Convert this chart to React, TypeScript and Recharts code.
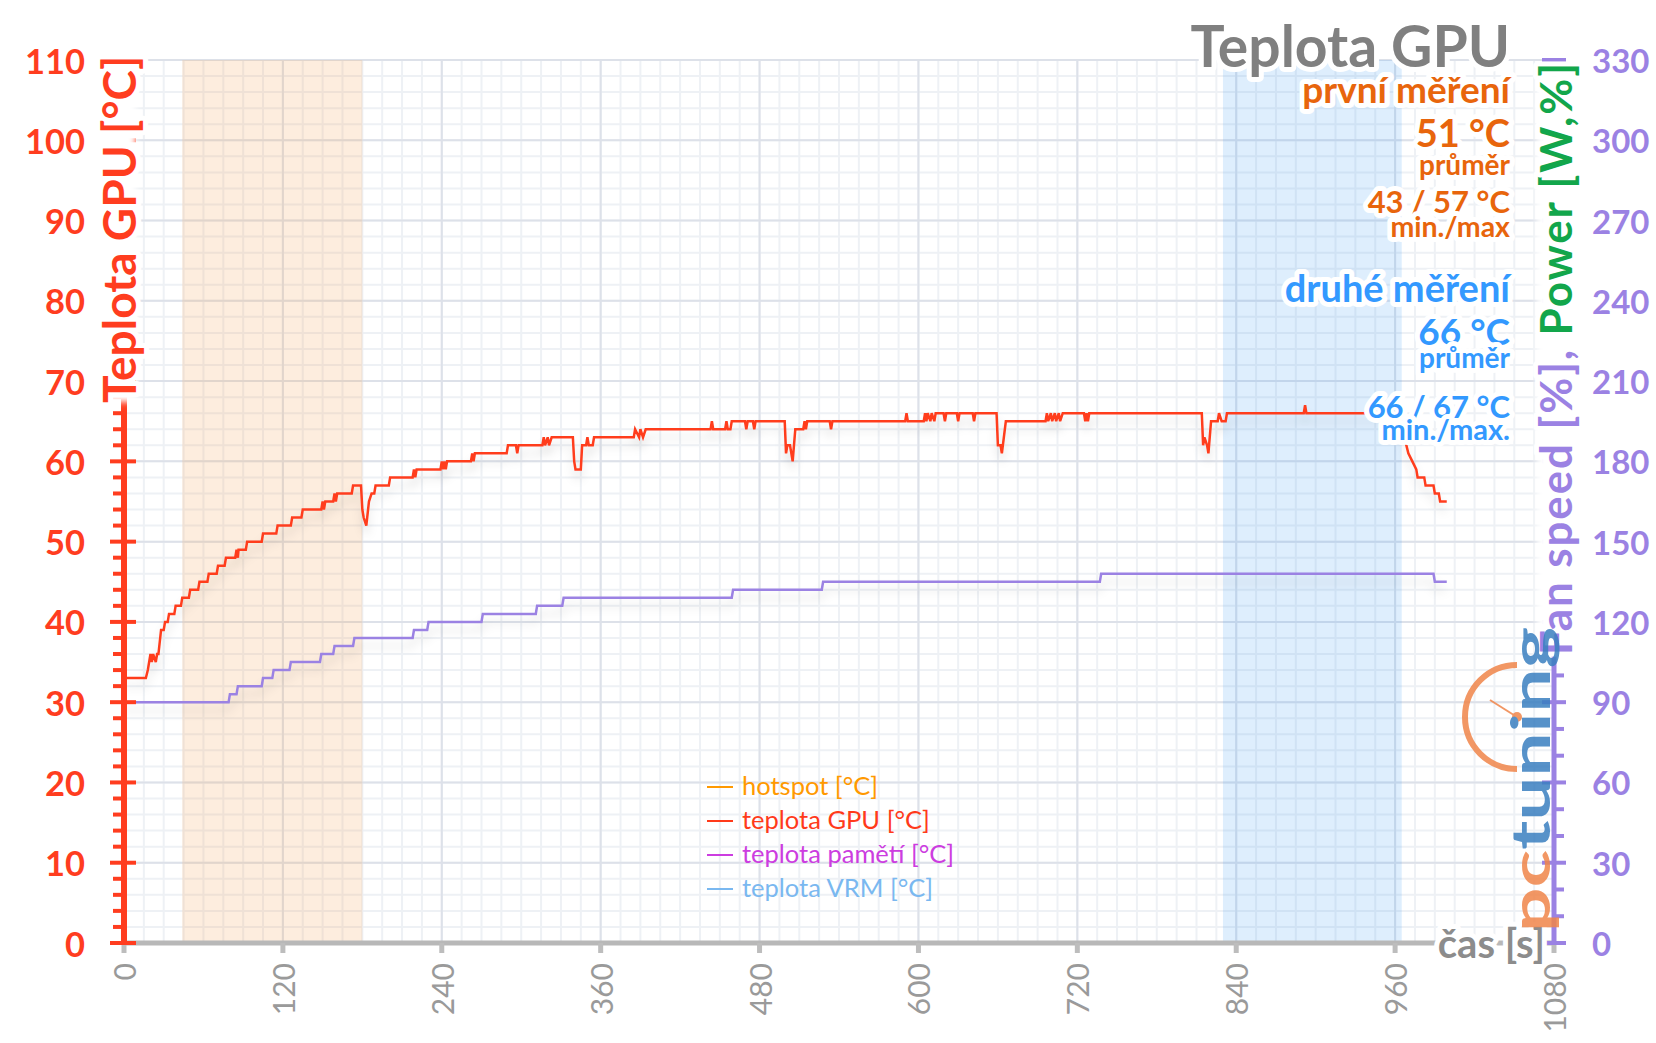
import { LineChart, Line, XAxis, YAxis, CartesianGrid, ReferenceArea } from 'recharts';

const FONT = "Lato, 'Open Sans', sans-serif";
const RED = '#ff3d1f';
const PURPLE = '#9b82e3';
const GREEN = '#12a64b';
const ORANGE = '#e8650c';
const BLUE = '#3399ff';
const GRAY = '#9a9a9a';

// teplota GPU [°C] - time [s] / value pairs
const gpuTime = [
  0, 16.5, 18, 20, 21, 22, 24, 25, 26, 28, 30, 31, 33, 34, 38, 39, 43, 44, 49, 50, 56, 57, 63, 64, 70, 71, 76, 77,
  84, 85, 86, 86.5, 92, 93, 104, 105, 115, 116, 126, 127, 134, 135, 149, 150, 151, 152, 158, 159, 160, 161, 172, 173,
  179, 180, 181, 183, 185, 187, 189, 190, 200, 201, 218, 219, 220, 221, 239, 240, 241, 242, 243, 244, 262, 263, 264,
  265, 289, 290, 296, 297, 298, 316, 317, 318, 320, 321, 323, 339, 340, 341, 345, 346, 349, 350, 351, 354, 355, 385,
  386, 389, 390, 392, 394, 443, 444, 445, 454, 455, 456, 458, 459, 469, 470, 471, 475, 476, 477, 499, 500, 501, 503,
  505, 507, 513, 514, 515, 516, 533, 534, 535, 590, 591, 592, 604, 605, 606, 607, 609, 610, 612, 613, 619, 620, 621,
  629, 630, 631, 641, 642, 643, 659, 660, 662, 663, 666, 696, 697, 698, 700, 701, 703, 704, 706, 707, 709, 725, 726,
  727, 728, 729, 814, 815, 816, 818, 819, 821, 826, 827, 829, 832, 833, 891, 892, 893, 965, 967, 970, 973, 976, 977,
  982, 983, 989, 990, 993, 994, 999,
];
const gpuTemp = [
  33, 33, 34, 36, 35, 36, 35, 36, 36, 39, 39, 40, 40, 41, 41, 42, 42, 43, 43, 44, 44, 45, 45, 46, 46, 47, 47, 48,
  48, 49, 48, 49, 49, 50, 50, 51, 51, 52, 52, 53, 53, 54, 54, 55, 54, 55, 55, 56, 55, 56, 56, 57,
  57, 54, 53, 52, 55, 56, 56, 57, 57, 58, 58, 59, 58, 59, 59, 60, 59, 60, 59, 60, 60, 61, 60,
  61, 61, 62, 62, 61, 62, 62, 63, 62, 63, 62, 63, 63, 60, 59, 59, 62, 62, 63, 62, 62, 63, 63,
  64, 63, 64, 63, 64, 64, 65, 64, 64, 65, 64, 64, 65, 65, 64, 65, 65, 64, 65, 65, 61, 62, 62,
  60, 64, 64, 65, 64, 65, 65, 64, 65, 65, 66, 65, 65, 66, 65, 66, 65, 66, 65, 66, 66, 65, 66,
  66, 65, 66, 66, 65, 66, 66, 62, 62, 61, 65, 65, 66, 65, 66, 65, 66, 65, 66, 65, 66, 66, 65,
  66, 65, 66, 66, 62, 63, 62, 61, 65, 65, 66, 65, 65, 66, 66, 67, 66, 66, 63, 61, 60, 59, 58,
  58, 57, 57, 56, 56, 55, 55,
];

// Fan speed [%] (right axis)
const fanTime = [0, 79, 80, 85, 86, 104, 105, 112, 113, 125, 126, 148, 149, 158, 159, 173, 174, 218, 219, 229, 230, 270, 271, 311, 312, 331, 332, 459, 460, 527, 528, 737, 738, 989, 990, 999];
const fanSpeed = [90, 90, 93, 93, 96, 96, 99, 99, 102, 102, 105, 105, 108, 108, 111, 111, 114, 114, 117, 117, 120, 120, 123, 123, 126, 126, 129, 129, 132, 132, 135, 135, 138, 138, 135, 135];

// teplota VRM [°C]
const vrmTime = [0, 999];
const vrmTemp = [0, 0];

const xTicks = [0, 120, 240, 360, 480, 600, 720, 840, 960, 1080];
const xMinor = Array.from({ length: 73 }, (_, i) => i * 15);
const yMajor = [0, 10, 20, 30, 40, 50, 60, 70, 80, 90, 100, 110];
const yMinor = Array.from({ length: 56 }, (_, i) => i * 2);
const rightTicks = Array.from({ length: 34 }, (_, i) => i * 10);

const firstRun = [44, 180];
const secondRun = [830, 965];

const legendItems = [
  { name: 'hotspot [°C]', color: '#ff9900' },
  { name: 'teplota GPU [°C]', color: '#ff3a1a' },
  { name: 'teplota pamětí [°C]', color: '#cc3de0' },
  { name: 'teplota VRM [°C]', color: '#7ab8f0' },
];

const gpuData = gpuTime.map((t, i) => ({ t, v: gpuTemp[i] }));
const fanData = fanTime.map((t, i) => ({ t, v: fanSpeed[i] }));
const vrmData = vrmTime.map((t, i) => ({ t, v: vrmTemp[i] }));

const halo = { stroke: '#fff', strokeWidth: 10, paintOrder: 'stroke', strokeLinejoin: 'round' } as const;

const LeftTick = (props: any) => {
  const { x, y, payload } = props;
  const v = payload.value;
  const major = v % 10 === 0;
  return (
    <g>
      <line x1={major ? x - 14 : x - 11} x2={major ? x + 12 : x} y1={y} y2={y} stroke={RED} strokeWidth={4} />
      {major && (
        <text x={x - 39} y={y} textAnchor="end" dominantBaseline="central" fill={RED} fontSize={34.5} fontWeight={700} fontFamily={FONT}>
          {v}
        </text>
      )}
    </g>
  );
};

const RightTick = (props: any) => {
  const { x, y, payload } = props;
  const v = payload.value;
  const major = v % 30 === 0;
  return (
    <g>
      <line x1={major ? x - 12 : x} x2={major ? x + 12 : x + 10} y1={y} y2={y} stroke={PURPLE} strokeWidth={4} />
      {major && (
        <text x={x + 38} y={y} textAnchor="start" dominantBaseline="central" fill={PURPLE} fontSize={33} fontWeight={700} fontFamily={FONT}>
          {v}
        </text>
      )}
    </g>
  );
};

const BottomTick = (props: any) => {
  const { x, y, payload } = props;
  return (
    <text x={x} y={y + 8} transform={`rotate(-90 ${x} ${y + 8})`} textAnchor="end" dominantBaseline="central" fill={GRAY} fontSize={30} fontFamily={FONT}>
      {payload.value}
    </text>
  );
};

const Overlay = () => (
  <svg width={1656} height={1043} style={{ position: 'absolute', left: 0, top: 0, pointerEvents: 'none' }} fontFamily={FONT}>
    <defs>
      <filter id="soft" x="-50%" y="-5%" width="200%" height="110%">
        <feGaussianBlur stdDeviation={3} />
      </filter>
    </defs>
    {/* axis titles, with a white glow hiding the axis behind them */}
    <rect x={100} y={62} width={36} height={340} fill="#fff" filter="url(#soft)" />
    <text x={118} y={403} transform="rotate(-90 118 403)" textAnchor="start" dominantBaseline="central" fontSize={46} fontWeight={700} fill={RED} {...halo}>
      Teplota GPU [°C]
    </text>
    <rect x={1537} y={70} width={36} height={585} fill="#fff" filter="url(#soft)" />
    <text x={1555} y={655} transform="rotate(-90 1555 655)" textAnchor="start" dominantBaseline="central" fontSize={44} fontWeight={700} textLength={592} lengthAdjust="spacing" {...halo}>
      <tspan fill={PURPLE}>Fan speed [%], </tspan>
      <tspan fill={GREEN}>Power [W,%]</tspan>
    </text>
    <text x={1545} y={943} textAnchor="end" dominantBaseline="central" fontSize={40} fontWeight={700} fill="#8c8c8c" {...halo}>
      čas [s]
    </text>

    {/* title and stats */}
    <g textAnchor="end" fontWeight={700} {...halo}>
      <text x={1510} y={67} fontSize={57} fill="#808080">Teplota GPU</text>
      <text x={1510} y={103} fontSize={37} fill={ORANGE}>první měření</text>
      <text x={1510} y={147} fontSize={38} fill={ORANGE}>51 °C</text>
      <text x={1510} y={175} fontSize={28} fill={ORANGE}>průměr</text>
      <text x={1510} y={213} fontSize={31} fill={ORANGE}>43 / 57 °C</text>
      <text x={1510} y={237} fontSize={28.5} fill={ORANGE}>min./max</text>
      <text x={1510} y={302} fontSize={38} fill={BLUE}>druhé měření</text>
      <text x={1510} y={345} fontSize={37} fill={BLUE}>66 °C</text>
      <text x={1510} y={368} fontSize={28} fill={BLUE}>průměr</text>
      <text x={1510} y={418} fontSize={31} fill={BLUE}>66 / 67 °C</text>
      <text x={1510} y={440} fontSize={29} fill={BLUE}>min./max.</text>
    </g>

    {/* legend */}
    {legendItems.map((it, i) => (
      <g key={it.name}>
        <line x1={707} x2={733} y1={787 + i * 34} y2={787 + i * 34} stroke={it.color} strokeWidth={2} />
        <text x={742} y={795 + i * 34} fontSize={25.5} fill={it.color}>{it.name}</text>
      </g>
    ))}

    {/* pctuning logo */}
    <g opacity={0.85}>
      <path d="M 1517 665 A 52 52 0 0 0 1517 769" fill="none" stroke="#f0854a" strokeWidth={6} />
      <line x1={1490} y1={700} x2={1517} y2={717} stroke="#f0854a" strokeWidth={2} />
      <circle cx={1517} cy={717} r={5} fill="#f0854a" />
      <text x={1529} y={932} transform="rotate(-90 1529 932)" textAnchor="start" dominantBaseline="central" fontSize={54} fontWeight={700} textLength={305} lengthAdjust="spacingAndGlyphs">
        <tspan fill="#f0854a">pc</tspan>
        <tspan fill="#3a7fc0">tuning</tspan>
      </text>
    </g>
  </svg>
);

const App = () => (
  <div style={{ position: 'absolute', left: 0, top: 0, width: 1656, height: 1043, background: '#fff' }}>
    <svg width={0} height={0} style={{ position: 'absolute' }}>
      <defs>
        <filter id="lineShadow" x="-5%" y="-20%" width="110%" height="160%">
          <feDropShadow dx={0} dy={8} stdDeviation={5} floodColor="#000" floodOpacity={0.12} />
        </filter>
      </defs>
    </svg>
    <LineChart width={1656} height={1043} margin={{ top: 60, right: 0, bottom: 0, left: 0 }}>
      <CartesianGrid stroke="#eef1f5" strokeWidth={2} verticalValues={xMinor} horizontalValues={yMinor} />
      <CartesianGrid stroke="#dde1e9" strokeWidth={2} verticalValues={xTicks} horizontalValues={yMajor} />
      <ReferenceArea x1={firstRun[0]} x2={firstRun[1]} y1={0} y2={110} fill="#f7a35c" fillOpacity={0.2} stroke="none" />
      <ReferenceArea x1={secondRun[0]} x2={secondRun[1]} y1={0} y2={110} fill="#4a9ff5" fillOpacity={0.18} stroke="none" />
      <XAxis
        dataKey="t"
        type="number"
        domain={[0, 1080]}
        ticks={xTicks}
        interval={0}
        height={100}
        axisLine={{ stroke: '#b8b8b8', strokeWidth: 5 }}
        tickLine={{ stroke: '#bdbdbd', strokeWidth: 5 }}
        tickSize={10}
        tick={<BottomTick />}
        allowDataOverflow
      />
      <YAxis
        domain={[0, 110]}
        ticks={yMinor}
        interval={0}
        width={124}
        axisLine={{ stroke: RED, strokeWidth: 6 }}
        tickLine={false}
        tickSize={0}
        tickMargin={0}
        tick={<LeftTick />}
      />
      <YAxis
        yAxisId="right"
        orientation="right"
        domain={[0, 330]}
        ticks={rightTicks}
        interval={0}
        width={102}
        axisLine={{ stroke: PURPLE, strokeWidth: 5 }}
        tickLine={false}
        tickSize={0}
        tickMargin={0}
        tick={<RightTick />}
      />
      <Line data={vrmData} dataKey="v" stroke="#7ab8f0" strokeWidth={3} dot={false} isAnimationActive={false} />
      <Line yAxisId="right" data={fanData} dataKey="v" stroke={PURPLE} strokeWidth={2.5} dot={false} isAnimationActive={false} filter="url(#lineShadow)" />
      <Line data={gpuData} dataKey="v" stroke={RED} strokeWidth={2.5} dot={false} isAnimationActive={false} filter="url(#lineShadow)" />
    </LineChart>
    <Overlay />
  </div>
);

export default App;
